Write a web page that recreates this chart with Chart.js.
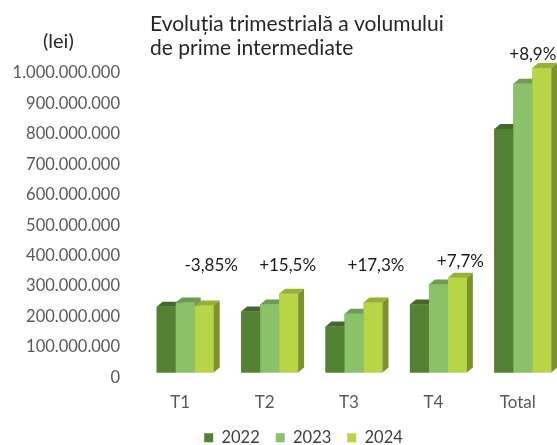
<!DOCTYPE html>
<html>
<head>
<meta charset="utf-8">
<script src="https://cdn.jsdelivr.net/npm/chart.js@4.4.1/dist/chart.umd.min.js"></script>
<style>
  html, body { margin: 0; padding: 0; background: #fff; overflow: hidden; }
  #wrap { position: relative; width: 605px; height: 456px; }
</style>
</head>
<body>
<div id="wrap"><canvas id="primeChart"></canvas></div>
<script>
// date din grafic (lei)
const categories = ["T1", "T2", "T3", "T4", "Total"];
const years = ["2022", "2023", "2024"];
const values2022 = [216e6, 200e6, 151e6, 223e6, 800e6];
const values2023 = [230e6, 223e6, 193e6, 289e6, 948e6];
const values2024 = [220e6, 259e6, 230e6, 311e6, 1000e6];
const growth = ["-3,85%", "+15,5%", "+17,3%", "+7,7%", "+8,9%"];

const fronts = ["#548235", "#8bc168", "#b8d546"];
const tops = ["#42692b", "#6e9c52", "#97b035"];
const sides = ["#3b5e26", "#689449", "#7d922f"];

const fmt = (v) => String(v).replace(/\B(?=(\d{3})+(?!\d))/g, ".");

// bare 3D (fata, capac, lateral) desenate peste barele chart.js
const bars3d = {
    id: "bars3d",
    afterDatasetsDraw(chart) {
        const ctx = chart.ctx;
        const dx = 6, dy = 5;
        ctx.save();
        chart.data.datasets.forEach((ds, di) => {
            const meta = chart.getDatasetMeta(di);
            meta.data.forEach((bar) => {
                const { x, y, base, width } = bar.getProps(["x", "y", "base", "width"], true);
                const l = x - width / 2, r = x + width / 2;
                ctx.fillStyle = fronts[di];
                ctx.fillRect(l, y, width, base - y);
                ctx.fillStyle = tops[di];
                ctx.beginPath();
                ctx.moveTo(l, y); ctx.lineTo(l + dx, y - dy);
                ctx.lineTo(r + dx, y - dy); ctx.lineTo(r, y);
                ctx.closePath(); ctx.fill();
                ctx.fillStyle = sides[di];
                ctx.beginPath();
                ctx.moveTo(r, y); ctx.lineTo(r + dx, y - dy);
                ctx.lineTo(r + dx, base - dy); ctx.lineTo(r, base);
                ctx.closePath(); ctx.fill();
            });
        });
        ctx.restore();
    },
};

// legenda putin mai la dreapta, ca in original
const legendShift = {
    id: "legendShift",
    afterLayout(chart) {
        if (chart.legend) {
            chart.legend.left += 42;
            chart.legend.right += 0;
        }
    },
};

// titlu, unitate si procente
const texts = {
    id: "texts",
    afterDraw(chart) {
        const ctx = chart.ctx;
        const xs = chart.scales.x;
        ctx.save();
        ctx.fillStyle = "#262626";
        ctx.textBaseline = "alphabetic";
        ctx.textAlign = "left";
        ctx.font = "21px Lato";
        ctx.fillText("Evoluția trimestrială a volumului", 150, 31);
        ctx.fillText("de prime intermediate", 150, 55);
        ctx.font = "20px Lato";
        ctx.fillText("(lei)", 43, 48);
        ctx.textAlign = "center";
        ctx.textBaseline = "middle";
        ctx.font = "17px Lato";
        ctx.fillStyle = "#1a1a1a";
        const offs = [26, 18, 22, 22, 10];
        const ys = [266, 266, 266, 262, 55];
        growth.forEach((g, i) => {
            ctx.fillText(g, xs.getPixelForValue(i) + offs[i], ys[i]);
        });
        ctx.restore();
    },
};

new Chart(document.getElementById("primeChart").getContext("2d"), {
    type: "bar",
    data: {
        labels: categories,
        datasets: [
            { label: years[0], data: values2022, backgroundColor: fronts[0] },
            { label: years[1], data: values2023, backgroundColor: fronts[1] },
            { label: years[2], data: values2024, backgroundColor: fronts[2] },
        ],
    },
    options: {
        responsive: true,
        maintainAspectRatio: false,
        animation: false,
        events: [],
        layout: { padding: { top: 68, right: 40, left: 0, bottom: 0 } },
        datasets: { bar: { categoryPercentage: 0.675, barPercentage: 1, borderWidth: 0, clip: false } },
        plugins: {
            title: { display: false },
            tooltip: { enabled: false },
            legend: {
                display: true,
                position: "bottom",
                labels: {
                    boxWidth: 9,
                    boxHeight: 9,
                    padding: 16,
                    color: "#404040",
                    font: { family: "Lato", size: 16.5 },
                },
            },
        },
        scales: {
            x: {
                grid: { display: false, drawTicks: false },
                border: { display: false },
                ticks: {
                    color: "#595959",
                    font: { family: "Lato", size: 17 },
                    padding: 20,
                    labelOffset: -5,
                },
                afterFit: (s) => { s.height = 41; },
            },
            y: {
                min: 0,
                max: 1000e6,
                grid: { display: false, drawTicks: false },
                border: { display: false },
                ticks: {
                    stepSize: 100e6,
                    color: "#595959",
                    font: { family: "Lato", size: 16.5 },
                    padding: 23,
                    labelOffset: 5,
                    callback: (v) => fmt(v),
                },
                afterFit: (s) => { s.width = 143; },
            },
        },
    },
    plugins: [bars3d, legendShift, texts],
});
</script>
</body>
</html>
